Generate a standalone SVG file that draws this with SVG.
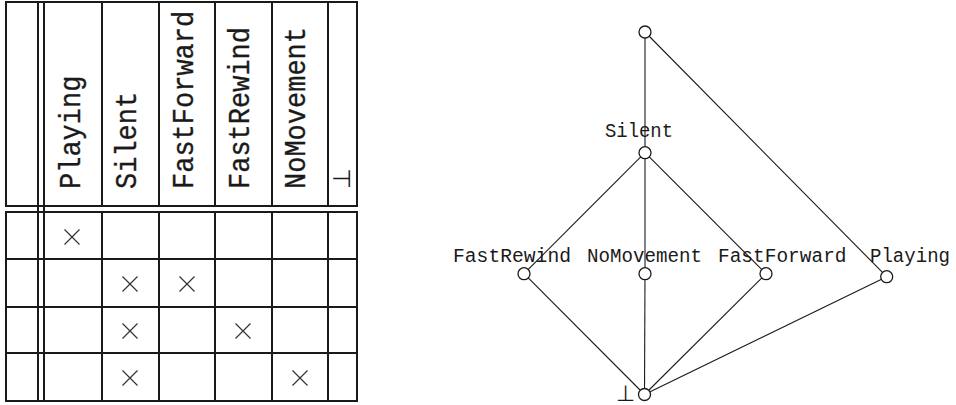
<svg xmlns="http://www.w3.org/2000/svg" xmlns:xlink="http://www.w3.org/1999/xlink" width="956" height="405" viewBox="0 0 956 405">
<style>
.rule{stroke:#1a1a1a;stroke-width:2;fill:none}
.hdr{font-family:"Liberation Mono","DejaVu Sans Mono",monospace;font-size:27px;fill:#1a1a1a;stroke:#1a1a1a;stroke-width:0.3}
.lbl{font-family:"Liberation Mono","DejaVu Sans Mono",monospace;font-size:19.5px;fill:#1a1a1a}
.sym{font-family:"DejaVu Sans",sans-serif;fill:#1a1a1a}
.edge{stroke:#1a1a1a;stroke-width:1.1;fill:none}
.node{stroke:#1a1a1a;stroke-width:1.3;fill:#fff}
.cross{stroke:#333;stroke-width:1.2;fill:none}
</style>
<defs>
<path id="x" class="cross" d="M-7.5,-7.5L7.5,7.5M-7.5,7.5L7.5,-7.5"/>
</defs>
<g id="context-table">
<rect class="rule" x="6" y="2" width="351" height="204"/>
<rect class="rule" x="6" y="212" width="351" height="189"/>
<path class="rule" d="M38,2V401M44,2V401M102,2V206M159,2V206M215,2V206M272,2V206M328,2V206M102,212V401M159,212V401M215,212V401M272,212V401M328,212V401M6,259H357M6,307H357M6,353H357"/>
<text class="hdr" transform="translate(80,189) rotate(-90) scale(1,1.12)">Playing</text>
<text class="hdr" transform="translate(136,189) rotate(-90) scale(1,1.12)">Silent</text>
<text class="hdr" transform="translate(193,189) rotate(-90) scale(1,1.12)">FastForward</text>
<text class="hdr" transform="translate(249,189) rotate(-90) scale(1,1.12)">FastRewind</text>
<text class="hdr" transform="translate(305,189) rotate(-90) scale(1,1.12)">NoMovement</text>
<text class="sym" font-size="24" transform="translate(350,189) rotate(-90)">⊥</text>
<use xlink:href="#x" x="72" y="237"/>
<use xlink:href="#x" x="130" y="284"/>
<use xlink:href="#x" x="187" y="284"/>
<use xlink:href="#x" x="130" y="331"/>
<use xlink:href="#x" x="243" y="331"/>
<use xlink:href="#x" x="130" y="378"/>
<use xlink:href="#x" x="300" y="378"/>
</g>
<g id="connectors">
<line class="edge" x1="645" y1="32" x2="645" y2="152.7"/>
<line class="edge" x1="645" y1="32" x2="886.7" y2="276.7"/>
<line class="edge" x1="645" y1="152.7" x2="524" y2="273.7"/>
<line class="edge" x1="645" y1="152.7" x2="645" y2="273.7"/>
<line class="edge" x1="645" y1="152.7" x2="766" y2="273.7"/>
<line class="edge" x1="524" y1="273.7" x2="644.5" y2="394.5"/>
<line class="edge" x1="645" y1="273.7" x2="644.5" y2="394.5"/>
<line class="edge" x1="766" y1="273.7" x2="644.5" y2="394.5"/>
<line class="edge" x1="886.7" y1="276.7" x2="644.5" y2="394.5"/>
</g>
<g id="node-top"><circle class="node" cx="645" cy="32" r="6"/></g>
<g id="node-silent"><circle class="node" cx="645" cy="152.7" r="6"/><text class="lbl" x="605" y="136.7" textLength="68" lengthAdjust="spacingAndGlyphs">Silent</text></g>
<g id="node-fastrewind"><circle class="node" cx="524" cy="273.7" r="6"/><text class="lbl" x="453" y="261.7" textLength="118" lengthAdjust="spacingAndGlyphs">FastRewind</text></g>
<g id="node-nomovement"><circle class="node" cx="645" cy="273.7" r="6"/><text class="lbl" x="587" y="261.7" textLength="115" lengthAdjust="spacingAndGlyphs">NoMovement</text></g>
<g id="node-fastforward"><circle class="node" cx="766" cy="273.7" r="6"/><text class="lbl" x="718" y="261.7" textLength="128.5" lengthAdjust="spacingAndGlyphs">FastForward</text></g>
<g id="node-playing"><circle class="node" cx="886.7" cy="276.7" r="6"/><text class="lbl" x="870" y="261.7" textLength="80" lengthAdjust="spacingAndGlyphs">Playing</text></g>
<g id="node-bottom"><circle class="node" cx="644.5" cy="394.5" r="6"/><text class="sym" font-size="22" x="616" y="401">⊥</text></g>
</svg>
